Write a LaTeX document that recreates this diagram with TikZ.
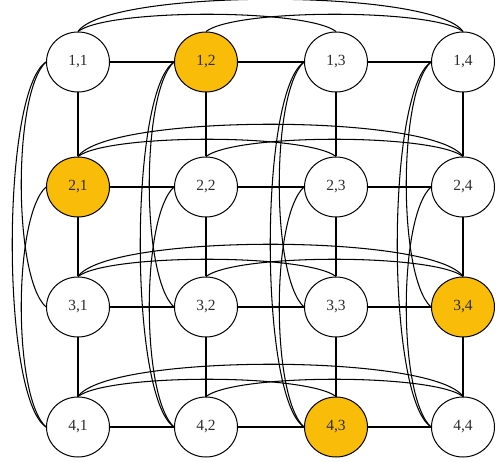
\documentclass[tikz,border=0pt]{standalone}
\usepackage{fontspec}
\setmainfont{Liberation Serif}
\usetikzlibrary{shapes.geometric}
\definecolor{gold}{RGB}{249,188,8}
\definecolor{txt}{RGB}{45,45,45}
\pgfdeclarelayer{bg}
\pgfsetlayers{bg,main}
\begin{document}
\begin{tikzpicture}[x=1pt,y=-1pt,
  vtx/.style={ellipse, draw=black, line width=1pt, fill=white, minimum width=63pt, minimum height=60pt, inner sep=0pt, font=\fontsize{15.5}{17}\selectfont, text=txt},
  hot/.style={vtx, fill=gold},
  edge/.style={line width=1.05pt, draw=black}]
\useasboundingbox (0,0) rectangle (498,462);
% row 1
\node[vtx] (n11) at (78,62) {1,1};
\node[hot] (n12) at (206,62) {1,2};
\node[vtx] (n13) at (336,62) {1,3};
\node[vtx] (n14) at (463,62) {1,4};
% row 2
\node[hot] (n21) at (78,187) {2,1};
\node[vtx] (n22) at (206,187) {2,2};
\node[vtx] (n23) at (336,187) {2,3};
\node[vtx] (n24) at (463,187) {2,4};
% row 3
\node[vtx] (n31) at (78,307) {3,1};
\node[vtx] (n32) at (206,307) {3,2};
\node[vtx] (n33) at (336,307) {3,3};
\node[hot] (n34) at (463,307) {3,4};
% row 4
\node[vtx] (n41) at (78,427) {4,1};
\node[vtx] (n42) at (206,427) {4,2};
\node[hot] (n43) at (336,427) {4,3};
\node[vtx] (n44) at (463,427) {4,4};
\begin{pgfonlayer}{bg}
\foreach \r in {1,2,3,4} {
  \foreach \a/\b in {1/2,2/3,3/4} {
    \draw[edge] (n\r\a) -- (n\r\b);
    \draw[edge] (n\a\r) -- (n\b\r);
  }
  \draw[edge] (n\r1.north) .. controls +(30,-43) and +(-30,-43) .. (n\r4.north);
  \draw[edge] (n\r1.north) .. controls +(30,-23) and +(-30,-23) .. (n\r3.north);
  \draw[edge] (n\r2.north) .. controls +(30,-23) and +(-30,-23) .. (n\r4.north);
  \draw[edge] (n1\r.west) .. controls +(-45,30) and +(-45,-30) .. (n4\r.west);
  \draw[edge] (n1\r.west) .. controls +(-33,30) and +(-33,-30) .. (n3\r.west);
  \draw[edge] (n2\r.west) .. controls +(-33,30) and +(-33,-30) .. (n4\r.west);
}
\end{pgfonlayer}
\end{tikzpicture}
\end{document}
